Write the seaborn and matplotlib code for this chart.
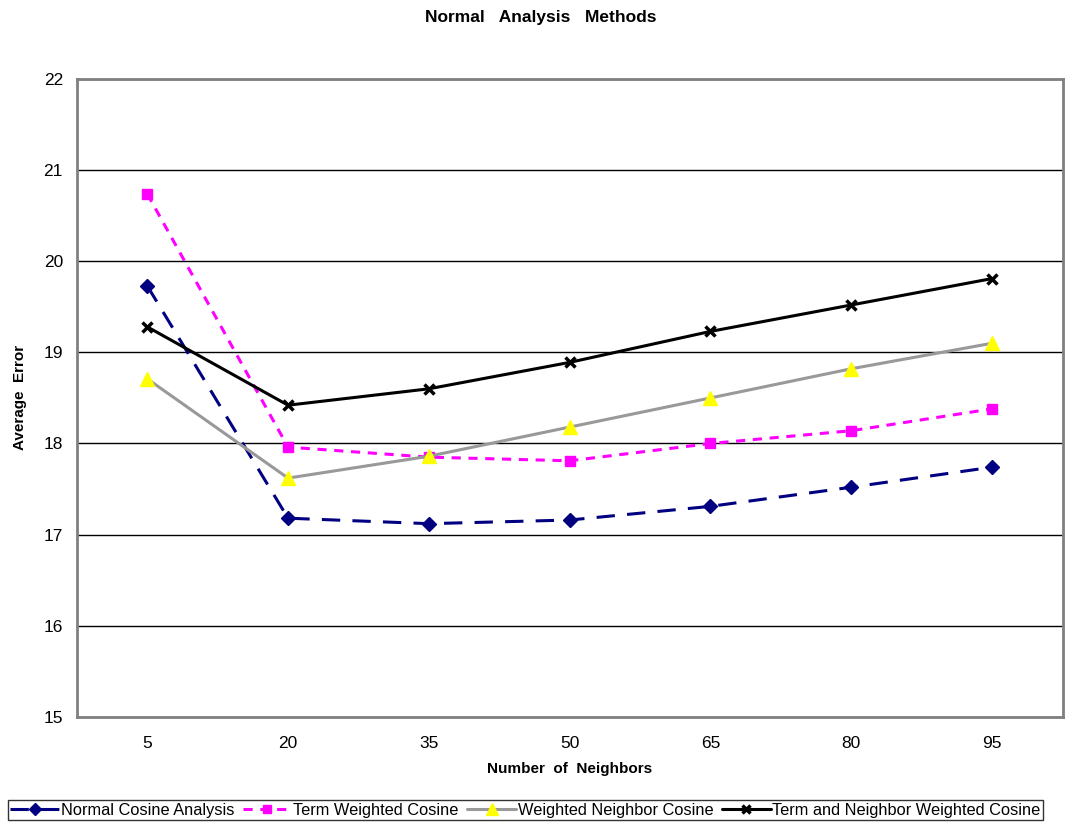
import pandas as pd
import matplotlib.pyplot as plt
import seaborn as sns

# values
neighbors = [5, 20, 35, 50, 65, 80, 95]
normal_cosine = [19.73, 17.18, 17.12, 17.16, 17.31, 17.52, 17.74]
term_weighted = [20.74, 17.96, 17.85, 17.81, 18.00, 18.14, 18.38]
weighted_neighbor = [18.71, 17.62, 17.86, 18.18, 18.50, 18.82, 19.10]
term_neighbor = [19.28, 18.42, 18.60, 18.89, 19.23, 19.52, 19.81]

series_names = ["Normal Cosine Analysis", "Term Weighted Cosine",
                "Weighted Neighbor Cosine", "Term and Neighbor Weighted Cosine"]
series_values = [normal_cosine, term_weighted, weighted_neighbor, term_neighbor]

df = pd.DataFrame({
    "Neighbors": neighbors * len(series_names),
    "Error": [v for vals in series_values for v in vals],
    "Method": [n for n in series_names for _ in neighbors],
})

sns.set_style("white")
plt.rcParams["font.family"] = ["Liberation Sans", "DejaVu Sans"]
plt.rcParams["text.color"] = "black"
plt.rcParams["axes.labelcolor"] = "black"
plt.rcParams["xtick.color"] = "black"
plt.rcParams["ytick.color"] = "black"

styles = {
    "Normal Cosine Analysis": dict(color="#000080", ls=(0, (6, 4)), marker="D", mfc="#000080", mec="#000080", ms=7),
    "Term Weighted Cosine": dict(color="#ff00ff", ls=(0, (3, 2.5)), marker="s", mfc="#ff00ff", mec="#ff00ff", ms=7),
    "Weighted Neighbor Cosine": dict(color="#999999", ls="-", marker="^", mfc="#ffff00", mec="#ffff00", ms=10),
    "Term and Neighbor Weighted Cosine": dict(color="black", ls="-", marker="x", mfc="black", mec="black", ms=7, mew=2.5),
}

fig = plt.figure(figsize=(10.82, 8.23), dpi=100)
ax = fig.add_axes([0.071, 0.129, 0.911, 0.775])

for name in series_names:
    st = styles[name]
    sns.lineplot(data=df[df["Method"] == name], x="Neighbors", y="Error", ax=ax,
                 color=st["color"], linestyle=st["ls"], lw=2.2, label=name,
                 marker=st["marker"], markerfacecolor=st["mfc"],
                 markeredgecolor=st["mec"], markersize=st["ms"],
                 markeredgewidth=st.get("mew", 1))

ax.set_xlim(-2.5, 102.5)
ax.set_ylim(15, 22)
ax.set_yticks(range(15, 23))
ax.set_xticks(neighbors)
ax.set_xticks([12.5 + 15 * i for i in range(7)], minor=True)
ax.tick_params(axis="x", which="major", length=0, pad=14, labelsize=12.5)
ax.tick_params(axis="x", which="minor", length=6, direction="out", color="#808080")
ax.tick_params(axis="y", length=6, direction="out", color="#808080", labelsize=12.5, pad=4)
ax.yaxis.grid(True, color="black", lw=1)
ax.set_axisbelow(True)
for sp in ax.spines.values():
    sp.set_color("#808080")
    sp.set_linewidth(2)

ax.set_xlabel("Number  of  Neighbors", fontsize=11, fontweight="bold", labelpad=8)
ax.set_ylabel("Average  Error", fontsize=11, fontweight="bold", labelpad=12)
fig.suptitle("Normal   Analysis   Methods", fontsize=12.5, fontweight="bold", y=0.988)

ax.legend(loc="lower left", bbox_to_anchor=(-0.07, -0.162), ncol=4, frameon=True,
          fancybox=False, edgecolor="black", fontsize=11.8, handlelength=3.0,
          handletextpad=0.1, columnspacing=0.5, borderpad=0.15, borderaxespad=0,
          markerscale=0.9)

plt.savefig("out.png", dpi=100)
